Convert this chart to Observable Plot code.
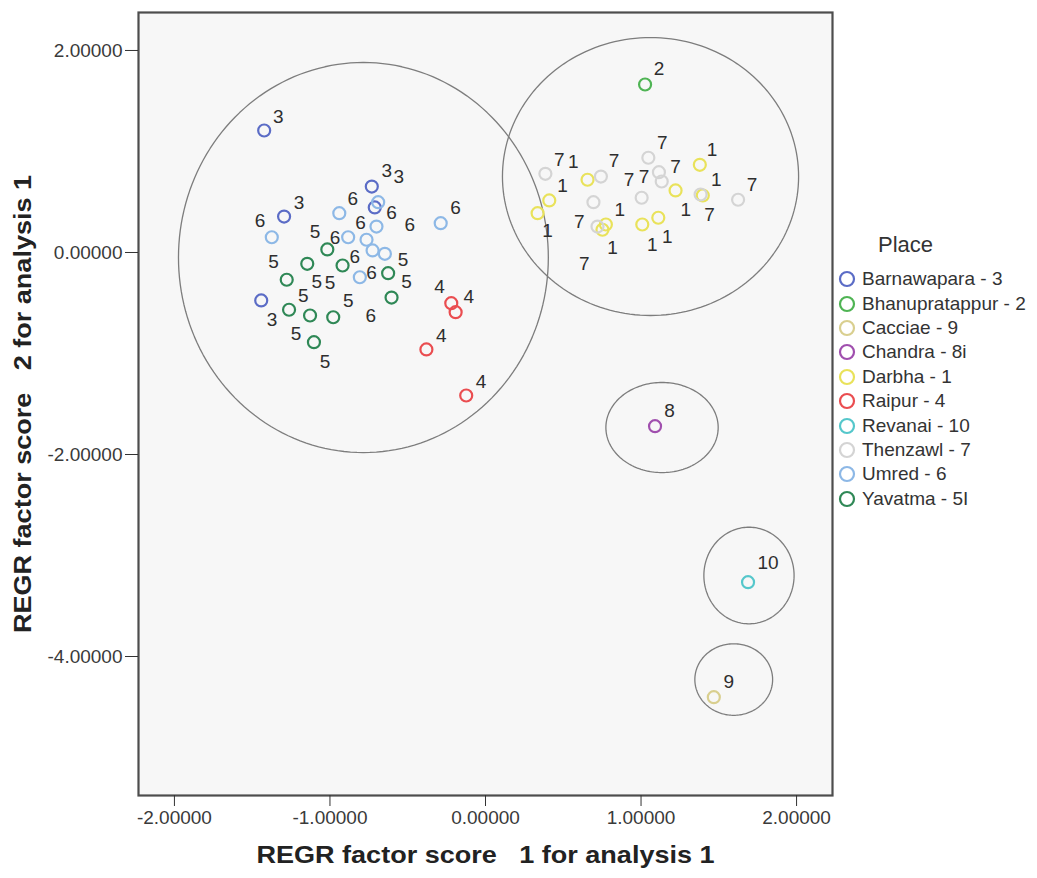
<!DOCTYPE html>
<html>
<head>
<meta charset="utf-8">
<script src="https://cdn.jsdelivr.net/npm/d3@7"></script>
<script src="https://cdn.jsdelivr.net/npm/@observablehq/plot@0.6"></script>
<style>
  html, body { margin: 0; padding: 0; background: #ffffff; }
  #wrap { position: relative; width: 1037px; height: 878px; font-family: "Liberation Sans", Arial, sans-serif; }
  #legend { position: absolute; left: 838px; top: 232px; color: #333; }
  #legend .title { font-size: 22px; margin-left: 40px; margin-bottom: 9px; }
  #legend .item { display: flex; align-items: center; height: 24.4px; font-size: 19px; }
  #legend svg { margin-right: 4px; flex: none; }
</style>
</head>
<body>
<div id="wrap"></div>
<script>
// ---------- data ----------
const placeNames = ["Barnawapara - 3", "Bhanupratappur - 2", "Cacciae - 9", "Chandra - 8i", "Darbha - 1",
                    "Raipur - 4", "Revanai - 10", "Thenzawl - 7", "Umred - 6", "Yavatma - 5I"];
const placeColors = ["#5b6cc6", "#4fb454", "#d9cf8f", "#a04fae", "#e9e25a",
                     "#ea4d50", "#55c7cb", "#d4d4d4", "#8db8e6", "#2f8856"];

const barnawapara = [[-1.423, 1.208], [-0.731, 0.653], [-0.712, 0.446], [-1.295, 0.356], [-1.442, -0.475]];
const bhanupratappur = [[1.026, 1.663]];
const cacciae = [[1.468, -4.403]];
const chandra = [[1.090, -1.720]];
const darbha = [[0.656, 0.720], [0.410, 0.515], [0.335, 0.389], [0.774, 0.277], [0.752, 0.225],
                [1.008, 0.277], [1.111, 0.344], [1.222, 0.614], [1.378, 0.868], [1.397, 0.564]];
const raipur = [[-0.220, -0.502], [-0.192, -0.591], [-0.380, -0.960], [-0.124, -1.416]];
const revanai = [[1.688, -3.264]];
const thenzawl = [[0.385, 0.779], [0.742, 0.752], [1.047, 0.938], [1.115, 0.795], [1.133, 0.703],
                  [0.694, 0.498], [1.004, 0.542], [0.720, 0.257], [1.383, 0.574], [1.624, 0.522]];
const umred = [[-0.940, 0.389], [-0.690, 0.498], [-0.701, 0.257], [-1.374, 0.151], [-0.883, 0.151],
               [-0.765, 0.126], [-0.726, 0.020], [-0.647, -0.013], [-0.808, -0.245], [-0.288, 0.290]];
const yavatma = [[-1.017, 0.030], [-1.146, -0.112], [-0.919, -0.129], [-1.278, -0.270], [-0.626, -0.205],
                 [-0.604, -0.446], [-1.263, -0.567], [-1.128, -0.624], [-0.979, -0.641], [-1.103, -0.888]];

// point labels: [text, x, y]
const pointLabels = [
  ["3", -1.333, 1.347], ["3", -0.635, 0.812], ["3", -0.558, 0.752], ["3", -1.199, 0.495], ["3", -1.372, -0.663],
  ["2", 1.115, 1.822],
  ["6", -1.449, 0.317], ["6", -0.853, 0.535], ["6", -0.803, 0.290], ["6", -0.604, 0.389], ["6", -0.487, 0.277],
  ["6", -0.968, 0.149], ["6", -0.840, -0.040], ["6", -0.733, -0.205], ["6", -0.192, 0.443], ["6", -0.737, -0.631],
  ["5", -1.096, 0.201], ["5", -1.363, -0.096], ["5", -1.085, -0.294], ["5", -1.000, -0.304], ["5", -0.530, -0.072],
  ["5", -0.508, -0.294], ["5", -1.171, -0.426], ["5", -0.883, -0.475], ["5", -1.218, -0.805], ["5", -1.032, -1.086],
  ["4", -0.295, -0.337], ["4", -0.107, -0.443], ["4", -0.284, -0.822], ["4", -0.028, -1.284],
  ["7", 0.474, 0.918], ["7", 0.827, 0.911], ["7", 0.923, 0.720], ["7", 1.019, 0.752], ["7", 1.137, 1.082],
  ["7", 1.222, 0.851], ["7", 0.603, 0.300], ["7", 1.440, 0.376], ["7", 1.713, 0.673], ["7", 0.635, -0.112],
  ["1", 0.564, 0.894], ["1", 0.496, 0.663], ["1", 0.399, 0.211], ["1", 0.863, 0.423], ["1", 0.816, 0.047],
  ["1", 1.072, 0.079], ["1", 1.169, 0.151], ["1", 1.287, 0.423], ["1", 1.457, 1.017], ["1", 1.483, 0.720],
  ["8", 1.184, -1.571], ["10", 1.816, -3.076], ["9", 1.564, -4.254]
];

// cluster outlines: [cx, cy, rx, ry] in data units
const clusters = [
  [-0.785, -0.050, 1.189, 1.931],
  [1.061, 0.752, 0.952, 1.376],
  [1.135, -1.733, 0.361, 0.446],
  [1.694, -3.198, 0.290, 0.478],
  [1.596, -4.228, 0.250, 0.354]
];

const xTicks = [-2, -1, 0, 1, 2];
const yTicks = [2, 0, -2, -4];
const xDomain = [-2.231, 2.231];
const yDomain = [-5.376, 2.376];
const xTitle = "REGR factor score   1 for analysis 1";
const yTitle = "REGR factor score   2 for analysis 1";

// ---------- build tables ----------
const groups = [barnawapara, bhanupratappur, cacciae, chandra, darbha, raipur, revanai, thenzawl, umred, yavatma];
const drawOrder = [0, 1, 2, 3, 4, 7, 5, 6, 8, 9];
const points = [];
for (const gi of drawOrder) {
  for (const [x, y] of groups[gi]) points.push({x, y, place: placeNames[gi]});
}
const labels = pointLabels.map(([text, x, y]) => ({text, x, y}));
const ellipse = [];
clusters.forEach(([cx, cy, rx, ry], id) => {
  for (let i = 0; i <= 180; i++) {
    const t = (i / 180) * 2 * Math.PI;
    ellipse.push({id, x: cx + rx * Math.cos(t), y: cy + ry * Math.sin(t)});
  }
});

const fmt = d => d.toFixed(5);

const chart = Plot.plot({
  width: 1037,
  height: 878,
  marginLeft: 138,
  marginRight: 205,
  marginTop: 12,
  marginBottom: 83,
  style: {fontFamily: "'Liberation Sans', Arial, sans-serif", color: "#3a3a3a", background: "#ffffff", overflow: "visible"},
  x: {domain: xDomain},
  y: {domain: yDomain},
  color: {domain: placeNames, range: placeColors},
  marks: [
    Plot.frame({fill: "#f7f7f7", stroke: "#4d4d4d", strokeWidth: 2.2}),
    Plot.line(ellipse, {x: "x", y: "y", z: "id", stroke: "#7d7d7d", strokeWidth: 1.3}),
    Plot.dot(points, {x: "x", y: "y", stroke: "place", r: 6, strokeWidth: 2.2}),
    Plot.text(labels, {x: "x", y: "y", text: "text", fontSize: 19, fill: "#2e2e2e"}),
    Plot.axisX({ticks: xTicks, tickFormat: fmt, tickSize: 11, tickPadding: 4, fontSize: 19, label: null, stroke: "#333"}),
    Plot.axisY({ticks: yTicks, tickFormat: fmt, tickSize: 13, tickPadding: 3, fontSize: 19, label: null, stroke: "#333"}),
    Plot.text([xTitle], {frameAnchor: "bottom", dy: 67, text: d => d, textAnchor: "middle", fontSize: 24, fontWeight: "bold", fill: "#222"}),
    Plot.text([yTitle], {frameAnchor: "left", dx: -115, rotate: -90, text: d => d, textAnchor: "middle", fontSize: 24, fontWeight: "bold", fill: "#222"})
  ]
});

// keep the multiple spaces in the axis titles and match their length
d3.select(chart).selectAll("text").each(function () {
  const t = this.textContent;
  if (t === xTitle || t === yTitle) {
    d3.select(this).style("white-space", "pre").attr("textLength", 458).attr("lengthAdjust", "spacingAndGlyphs");
  }
});

const wrap = document.getElementById("wrap");
wrap.appendChild(chart);

// legend
const legend = document.createElement("div");
legend.id = "legend";
legend.innerHTML = `<div class="title">Place</div>` + placeNames.map((n, i) =>
  `<div class="item"><svg width="20" height="20"><circle cx="9" cy="10" r="7" fill="none" stroke="${placeColors[i]}" stroke-width="2.2"></circle></svg><span>${n}</span></div>`
).join("");
wrap.appendChild(legend);
</script>
</body>
</html>
